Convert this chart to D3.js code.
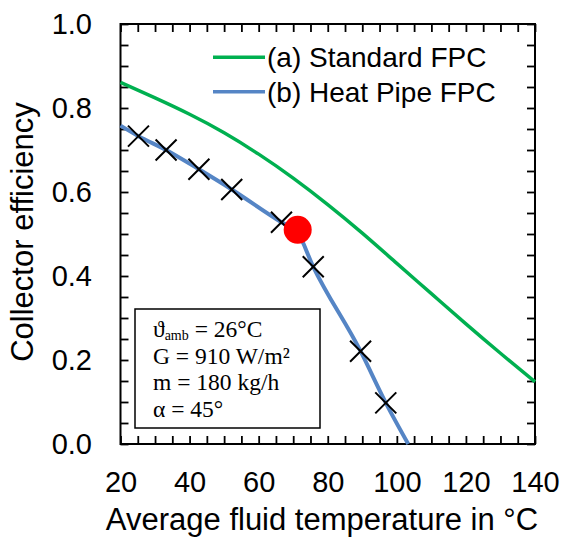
<!DOCTYPE html>
<html>
<head>
<meta charset="utf-8">
<script src="https://cdn.jsdelivr.net/npm/d3@7"></script>
<style>
  html, body { margin: 0; padding: 0; background: #fff; }
  svg { display: block; }
</style>
</head>
<body>
<svg id="chart" width="561" height="539"></svg>
<script>
// Standard flat-plate collector: efficiency curve
const standardTemp = [20, 30, 40, 50, 60, 70, 80, 90, 100, 110, 120, 130, 140];
const standardEff  = [0.861, 0.824, 0.785, 0.741, 0.690, 0.633, 0.570, 0.502, 0.430, 0.358, 0.286, 0.216, 0.148];

// Heat pipe flat-plate collector: efficiency curve
const heatPipeTemp = [20, 25.2, 33.2, 42.7, 52.2, 66.6, 71.0, 75.8, 89.5, 96.8, 103.3];
const heatPipeEff  = [0.758, 0.733, 0.700, 0.654, 0.606, 0.528, 0.507, 0.422, 0.221, 0.098, 0.0];

// Measured points on the heat pipe collector
const measuredTemp = [25.2, 33.2, 42.7, 52.2, 66.6, 75.8, 89.5, 96.8];
const measuredEff  = [0.733, 0.700, 0.654, 0.606, 0.528, 0.422, 0.221, 0.098];

// Operating point (red dot)
const operatingTemp = [71.3];
const operatingEff  = [0.510];

// Axis ticks
const xTickLabels = [20, 40, 60, 80, 100, 120, 140];
const yTickLabels = [0, 0.2, 0.4, 0.6, 0.8, 1.0];
const xMinorTicks = d3.range(20, 140.001, 5);
const yMinorTicks = d3.range(0, 1.0001, 0.05);

const legendLabels = ["(a) Standard FPC", "(b) Heat Pipe FPC"];
const conditions = ["= 26°C", "G = 910 W/m²", "m = 180 kg/h", "α = 45°"];

const colors = { standard: "#00b050", heatPipe: "#5585c5", point: "#ff0000" };
const sans = "'Liberation Sans', Arial, sans-serif";
const serif = "'Liberation Serif', 'Times New Roman', serif";

const svg = d3.select("#chart");
const plotLeft = 120.5, plotRight = 535, plotTop = 24, plotBottom = 444;

const x = d3.scaleLinear().domain([20, 140]).range([plotLeft, plotRight]);
const y = d3.scaleLinear().domain([0, 1]).range([plotBottom, plotTop]);

// inward tick marks on all four sides
function tickAxis(axis, tx, ty) {
  const g = svg.append("g").attr("transform", `translate(${tx},${ty})`).call(axis);
  g.select(".domain").remove();
  g.selectAll(".tick line").attr("stroke", "#000").attr("stroke-width", 1.8);
  return g;
}
tickAxis(d3.axisBottom(x).tickValues(xMinorTicks).tickSize(-8).tickFormat(""), 0, plotBottom);
tickAxis(d3.axisTop(x).tickValues(xMinorTicks).tickSize(-8).tickFormat(""), 0, plotTop);
tickAxis(d3.axisLeft(y).tickValues(yMinorTicks).tickSize(-8).tickFormat(""), plotLeft, 0);
tickAxis(d3.axisRight(y).tickValues(yMinorTicks).tickSize(-8).tickFormat(""), plotRight, 0);

// tick labels
const xLab = svg.append("g").attr("transform", `translate(0,${plotBottom})`)
  .call(d3.axisBottom(x).tickValues(xTickLabels).tickSize(0).tickPadding(27.5).tickFormat(d3.format("d")));
xLab.select(".domain").remove();
xLab.selectAll("text").attr("font-family", sans).attr("font-size", 29).attr("fill", "#000");

const yLab = svg.append("g").attr("transform", `translate(${plotLeft},0)`)
  .call(d3.axisLeft(y).tickValues(yTickLabels).tickSize(0).tickPadding(28.5).tickFormat(d3.format(".1f")));
yLab.select(".domain").remove();
yLab.selectAll("text").attr("font-family", sans).attr("font-size", 29).attr("fill", "#000");

// plot frame
svg.append("rect")
  .attr("x", plotLeft).attr("y", plotTop)
  .attr("width", plotRight - plotLeft).attr("height", plotBottom - plotTop)
  .attr("fill", "none").attr("stroke", "#000").attr("stroke-width", 2);

// axis titles
svg.append("text")
  .attr("x", 322).attr("y", 530)
  .attr("text-anchor", "middle")
  .attr("font-family", sans).attr("font-size", 31)
  .text("Average fluid temperature in °C");

svg.append("text")
  .attr("transform", "translate(33,232) rotate(-90)")
  .attr("text-anchor", "middle")
  .attr("font-family", sans).attr("font-size", 31)
  .text("Collector efficiency");

// curves
const line = d3.line().x(d => x(d[0])).y(d => y(d[1]));

svg.append("path")
  .datum(standardTemp.map((t, i) => [t, standardEff[i]]))
  .attr("d", line.curve(d3.curveNatural))
  .attr("fill", "none").attr("stroke", colors.standard).attr("stroke-width", 3.4);

svg.append("path")
  .datum(heatPipeTemp.map((t, i) => [t, heatPipeEff[i]]))
  .attr("d", line.curve(d3.curveMonotoneX))
  .attr("fill", "none").attr("stroke", colors.heatPipe).attr("stroke-width", 4);

// measured points as crosses
svg.append("g").selectAll("path")
  .data(measuredTemp.map((t, i) => [t, measuredEff[i]]))
  .join("path")
  .attr("transform", d => `translate(${x(d[0])},${y(d[1])})`)
  .attr("d", "M-10.5,-10.5L10.5,10.5M-10.5,10.5L10.5,-10.5")
  .attr("stroke", "#000").attr("stroke-width", 2).attr("fill", "none");

// operating point
svg.append("g").selectAll("circle")
  .data(operatingTemp.map((t, i) => [t, operatingEff[i]]))
  .join("circle")
  .attr("cx", d => x(d[0])).attr("cy", d => y(d[1]))
  .attr("r", 14).attr("fill", colors.point);

// legend
const legend = svg.append("g");
[colors.standard, colors.heatPipe].forEach((c, i) => {
  const ly = 57.3 + i * 34.4;
  legend.append("line")
    .attr("x1", 213).attr("x2", 265).attr("y1", ly).attr("y2", ly)
    .attr("stroke", c).attr("stroke-width", 3.5);
  legend.append("text")
    .attr("x", 267).attr("y", ly + 10)
    .attr("font-family", sans).attr("font-size", 28)
    .text(legendLabels[i]);
});

// test conditions box
svg.append("rect")
  .attr("x", 135).attr("y", 309).attr("width", 185).attr("height", 119)
  .attr("fill", "#fff").attr("stroke", "#000").attr("stroke-width", 1.5);

const box = svg.append("g").attr("font-family", serif).attr("font-size", 23.5).attr("fill", "#000");
const baselines = [336.5, 364, 390, 416.5];
const t0 = box.append("text").attr("x", 153).attr("y", baselines[0]);
t0.append("tspan").text("ϑ");
t0.append("tspan").attr("font-size", 14).attr("dy", 3.5).text("amb");
t0.append("tspan").attr("dy", -3.5).text(" " + conditions[0]);
for (let i = 1; i < conditions.length; i++) {
  box.append("text").attr("x", 153).attr("y", baselines[i]).text(conditions[i]);
}
</script>
</body>
</html>
